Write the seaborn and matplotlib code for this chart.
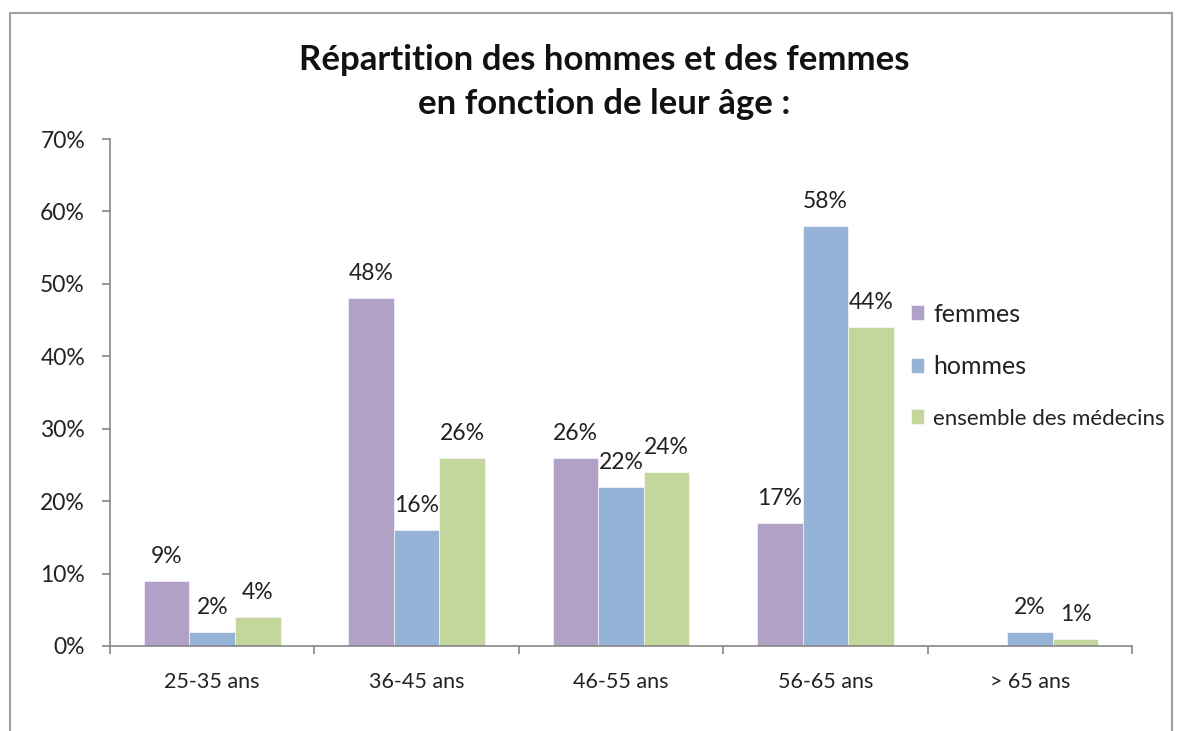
import seaborn as sns
import pandas as pd
import numpy as np
import matplotlib.pyplot as plt
from matplotlib.patches import Rectangle

# data (percent)
categories = ["25-35 ans", "36-45 ans", "46-55 ans", "56-65 ans", "> 65 ans"]
femmes = [9, 48, 26, 17, np.nan]
hommes = [2, 16, 22, 58, 2]
ensemble = [4, 26, 24, 44, 1]
series = ["femmes", "hommes", "ensemble des médecins"]
colors = ["#B2A1C7", "#95B3D7", "#C3D69B"]

df = pd.DataFrame({"age": categories * 3,
                   "serie": [series[0]] * 5 + [series[1]] * 5 + [series[2]] * 5,
                   "pct": femmes + hommes + ensemble})

sns.set_style("white")
plt.rcParams['font.family'] = ['Lato', 'DejaVu Sans']

fig = plt.figure(figsize=(11.82, 7.31), dpi=100)
ax = fig.add_axes([110 / 1182, 1 - 646 / 731, 1022 / 1182, 507 / 731])

sns.barplot(data=df, x="age", y="pct", hue="serie", hue_order=series,
            order=categories, palette=colors, width=0.67, saturation=1,
            linewidth=0.4, edgecolor="white", ax=ax, legend=True)

for cont in ax.containers:
    ax.bar_label(cont, fmt="%.0f%%", padding=10, fontsize=16.5, color="#222222")

ax.set_ylim(0, 70)
ax.set_xlim(-0.5, 4.5)
ax.set_yticks(range(0, 71, 10))
ax.set_yticklabels([f"{v}%" for v in range(0, 71, 10)])
ax.set_xticks(range(5))
ax.set_xticks(np.arange(-0.5, 5, 1), minor=True)
ax.set_xlabel("")
ax.set_ylabel("")
ax.tick_params(axis="x", which="major", length=0, pad=19, labelsize=15.5, labelcolor="#222222")
ax.tick_params(axis="x", which="minor", length=6, color="#868686", width=1.2, direction="out")
ax.tick_params(axis="y", length=6, color="#868686", width=1.2, direction="out",
               labelsize=16.5, labelcolor="#222222", pad=12)
ax.tick_params(bottom=True, left=True, which="both")
sns.despine(ax=ax)
for s in ["left", "bottom"]:
    ax.spines[s].set_color("#868686")
    ax.spines[s].set_linewidth(1.2)

leg = ax.legend(loc="upper left", bbox_to_anchor=(888 / 1182, 1 - 280 / 731),
                bbox_transform=fig.transFigure, frameon=False, fontsize=18,
                handlelength=0.55, handleheight=0.55, handletextpad=0.35, labelspacing=1.2)
leg.get_texts()[2].set_fontsize(16)
for t in leg.get_texts():
    t.set_color("#222222")

fig.text(604 / 1182, 1 - 82 / 731, "Répartition des hommes et des femmes\nen fonction de leur âge :",
         ha="center", va="center", fontsize=25, fontweight="bold", linespacing=1.45,
         color="#111111")

fig.patches.append(Rectangle((10 / 1182, -0.1), 1162 / 1182, 1.1 - 13 / 731,
                             transform=fig.transFigure, fill=False,
                             edgecolor="#A0A0A0", linewidth=1.5))

fig.savefig("out.png", dpi=100)
